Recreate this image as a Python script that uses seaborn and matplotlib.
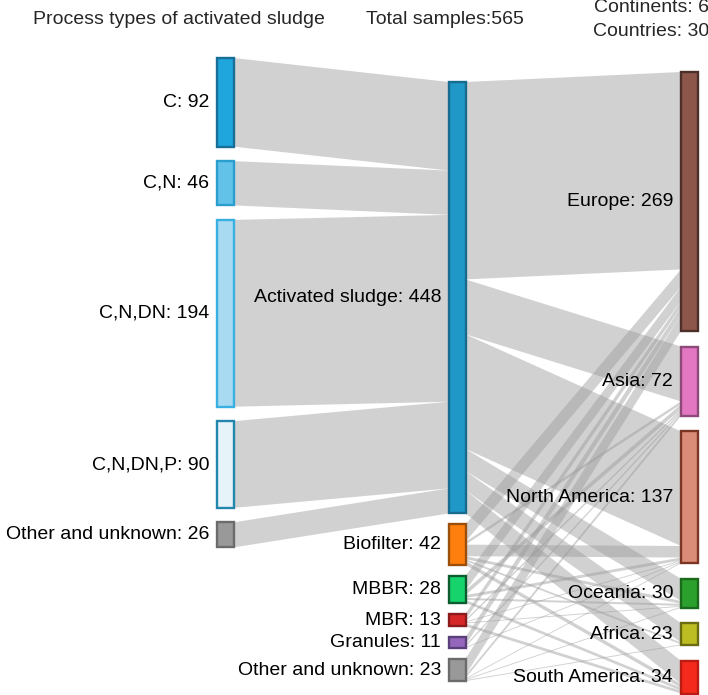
import matplotlib
matplotlib.use("Agg")
import matplotlib.pyplot as plt
from matplotlib.patches import Polygon, Rectangle
import seaborn as sns

# ------------------------------
# data
# ------------------------------
process_types = ["C", "C,N", "C,N,DN", "C,N,DN,P", "Other and unknown"]
process_counts = [92, 46, 194, 90, 26]

systems = ["Activated sludge", "Biofilter", "MBBR", "MBR", "Granules", "Other and unknown"]
system_counts = [448, 42, 28, 13, 11, 23]

continents = ["Europe", "Asia", "North America", "Oceania", "Africa", "South America"]
continent_counts = [269, 72, 137, 30, 23, 34]

# samples per system going to each continent (same order as continents)
as_to_cont = [205, 57, 119, 23, 20, 24]
biofilter_to_cont = [18, 3, 12, 3, 2, 4]
mbbr_to_cont = [15, 5, 3, 2, 0, 3]
mbr_to_cont = [6, 2, 1, 1, 0, 3]
granules_to_cont = [8, 2, 1, 0, 0, 0]
other_to_cont = [17, 3, 1, 1, 1, 0]
system_flows = [as_to_cont, biofilter_to_cont, mbbr_to_cont,
                mbr_to_cont, granules_to_cont, other_to_cont]

total_samples = 565
n_continents = 6
n_countries = 30

# ------------------------------
# styles
# ------------------------------
process_fill = ["#1fa6dc", "#63c2e8", "#a8daf1", "#e6f4fa", "#999999"]
process_edge = ["#176f97", "#2a9fcf", "#39b0e2", "#2386ad", "#6b6b6b"]
system_fill = ["#1f97c7", "#ff7f0e", "#17d36b", "#d62728", "#9467bd", "#999999"]
system_edge = ["#166b8e", "#9c4f0a", "#0d5c30", "#8a1a1b", "#5b3f7a", "#6b6b6b"]
cont_fill = ["#8c564b", "#e377c2", "#da8c78", "#2ca02c", "#bcbd22", "#f42a1c"]
cont_edge = ["#4d2f29", "#8d4a79", "#7a3524", "#1b6a1b", "#6b6b12", "#b81c12"]

sns.set_style("white")
plt.rcParams["font.family"] = ["Liberation Sans", "DejaVu Sans"]

SCALE = 0.963          # pixels per sample
NODE_W = 16.5
col_x = [217, 449, 681]
col_top = [58, 82, 72]
col_gap = [14.5, 11, 15.5]
FONT = 14
FLOW_COLOR = "#9a9a9a"
FLOW_ALPHA = 0.45


def stack(counts, top, gap):
    tops = []
    y = top
    for c in counts:
        tops.append(y)
        y += c * SCALE + gap
    return tops


left_tops = stack(process_counts, col_top[0], col_gap[0])
mid_tops = stack(system_counts, col_top[1], col_gap[1])
right_tops = stack(continent_counts, col_top[2], col_gap[2])

fig = plt.figure(figsize=(7.08, 6.95), dpi=100)
ax = fig.add_axes([0, 0, 1, 1])
ax.set_xlim(0, 708)
ax.set_ylim(695, 0)
ax.axis("off")


def band(x0, y0, x1, y1, h):
    poly = Polygon([(x0, y0), (x1, y1), (x1, y1 + h), (x0, y0 + h)],
                   closed=True, facecolor=FLOW_COLOR, alpha=FLOW_ALPHA,
                   edgecolor="none", zorder=1)
    ax.add_patch(poly)


# process types -> activated sludge
t = mid_tops[0]
for i, c in enumerate(process_counts):
    h = c * SCALE
    band(col_x[0] + NODE_W, left_tops[i], col_x[1], t, h)
    t += h

# systems -> continents
target_off = list(right_tops)
for i, flows in enumerate(system_flows):
    s = mid_tops[i]
    for j, c in enumerate(flows):
        if c == 0:
            continue
        h = c * SCALE
        band(col_x[1] + NODE_W, s, col_x[2], target_off[j], h)
        s += h
        target_off[j] += h


def nodes(x, tops, counts, names, fills, edges):
    for y, c, name, fc, ec in zip(tops, counts, names, fills, edges):
        h = c * SCALE
        ax.add_patch(Rectangle((x, y), NODE_W, h, facecolor=fc, edgecolor=ec,
                               linewidth=1.7, zorder=3))
        ax.text(x - 8, y + h / 2, f"{name}: {c}", ha="right", va="center",
                fontsize=FONT, color="black", zorder=4)


nodes(col_x[0], left_tops, process_counts, process_types, process_fill, process_edge)
nodes(col_x[1], mid_tops, system_counts, systems, system_fill, system_edge)
nodes(col_x[2], right_tops, continent_counts, continents, cont_fill, cont_edge)

# headers
ax.text(179, 20, "Process types of activated sludge", ha="center", va="center", fontsize=FONT)
ax.text(445, 20, f"Total samples:{total_samples}", ha="center", va="center", fontsize=FONT)
ax.text(709, 8, f"Continents: {n_continents}", ha="right", va="center", fontsize=FONT)
ax.text(709, 32, f"Countries: {n_countries}", ha="right", va="center", fontsize=FONT)

fig.savefig("out.png", dpi=100)
